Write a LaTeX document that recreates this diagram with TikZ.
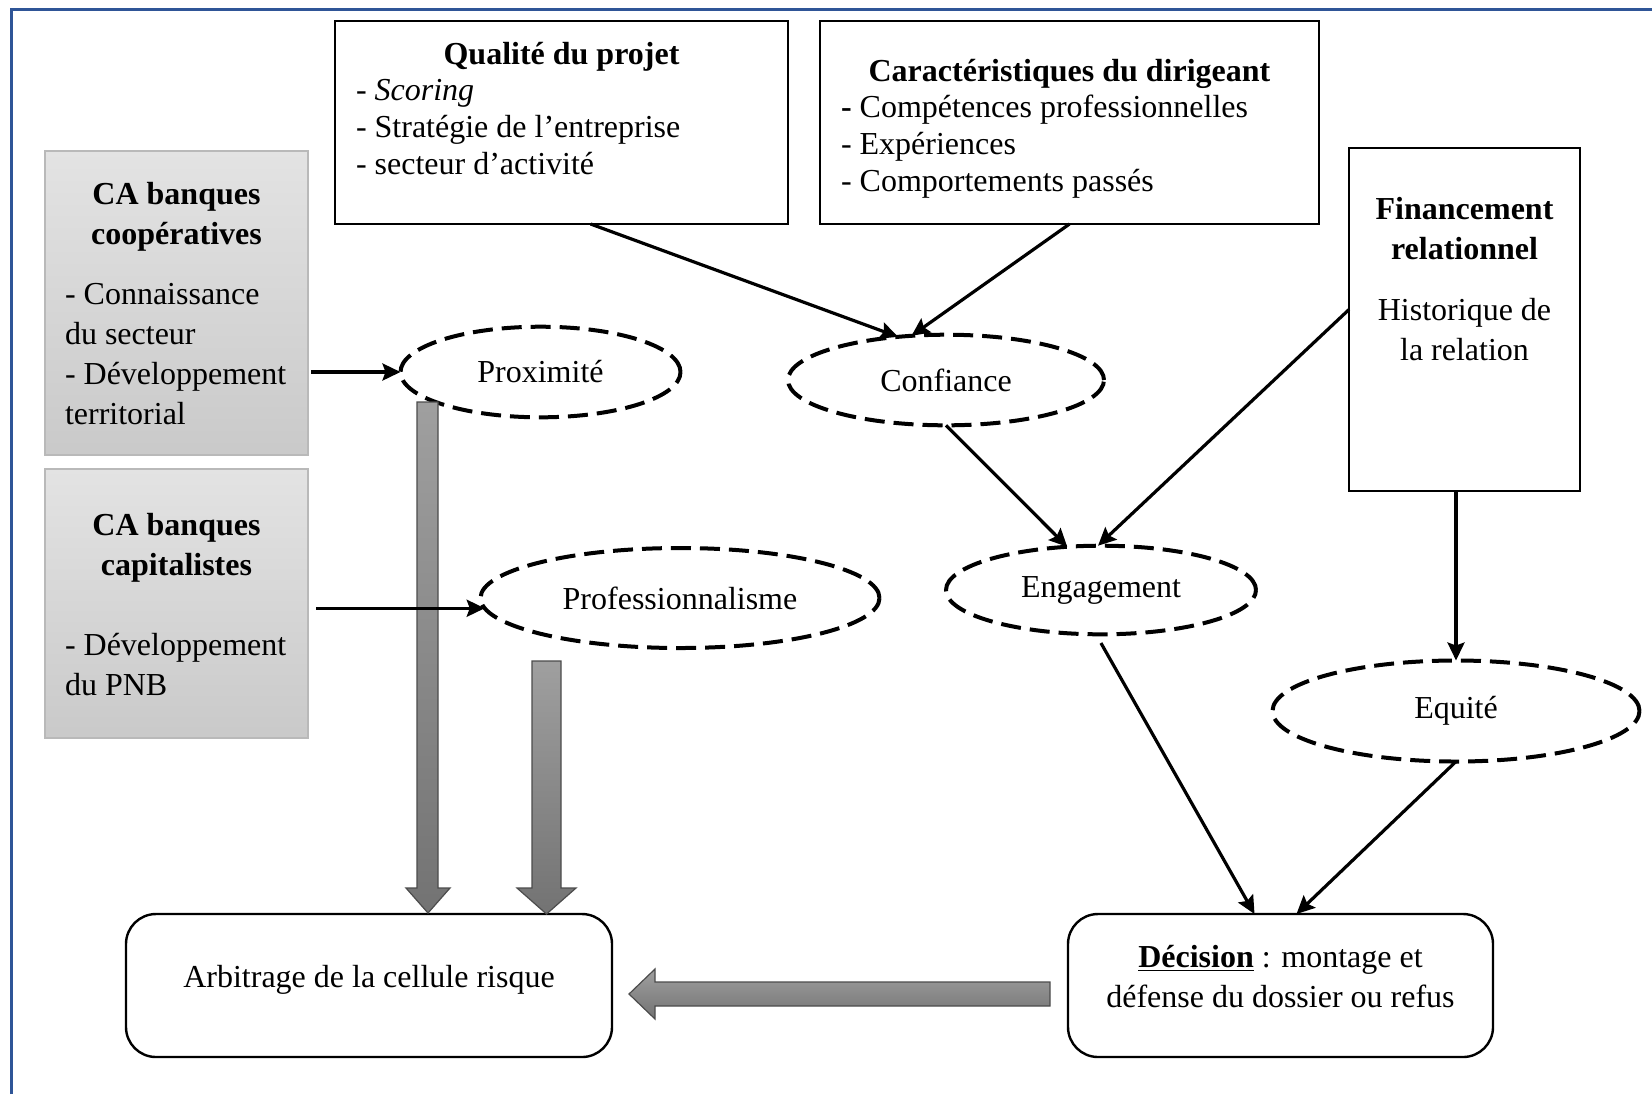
\documentclass[tikz,border=0pt]{standalone}
\usepackage{fontspec}
\setmainfont{Liberation Serif}
\usetikzlibrary{shapes.geometric,arrows.meta,positioning}
\definecolor{cadre}{RGB}{47,85,151}

\begin{document}
\begin{tikzpicture}[x=0.5pt, y=-0.5pt, >={Stealth[length=9pt,width=8.5pt,inset=1.5pt]},
    every node/.style={font=\fontsize{16}{20}\selectfont, inner sep=0pt, outer sep=0pt},
    boite/.style={draw, line width=1.2pt},
    grise/.style={draw=gray!55, line width=0.6pt, top color=gray!22, bottom color=gray!42},
    arrondi/.style={draw, line width=1.2pt, rounded corners=15pt},
    bulle/.style={ellipse, draw, line width=2pt, dash pattern=on 10pt off 4.5pt},
    fleche/.style={->, line width=1.6pt},
    grosse/.style={draw=black!70, line width=0.6pt, top color=gray!75, bottom color=black!55},
    txt/.style={anchor=north west, align=left},
    serre/.style={font=\fontsize{16}{18.3}\selectfont}]
    \useasboundingbox (0,0) rectangle (1652,1094);

    % 1. cadre de la page
    \draw[cadre, line width=1.5pt] (11,1094) -- (11,9) -- (1652,9);

    % 2. encadrés du haut
    \node[boite, minimum width=226.5pt, minimum height=101.5pt] (qualite) at (561.5,122.5) {};
    \node[txt, serre] (qualitetxt) at (356,42) {\makebox[205.5pt]{\textbf{Qualité du projet}}\\- \textit{Scoring}\\- Stratégie de l’entreprise\\- secteur d’activité};

    \node[boite, minimum width=249.5pt, minimum height=101.5pt] (caract) at (1069.5,122.5) {};
    \node[txt, serre] (caracttxt) at (841,59) {\makebox[228.5pt]{\textbf{Caractéristiques du dirigeant}}\\\textbf{-} Compétences professionnelles\\- Expériences\\- Comportements passés};

    \node[boite, minimum width=115.5pt, minimum height=171.5pt] (fin) at (1464.5,319.5) {};
    \node[anchor=north, align=center] (fintxt) at (1464.5,197) {\textbf{Financement}\\\textbf{relationnel}\\[10.5pt]Historique de\\la relation};

    % 3. conseils d'administration (encadrés gris)
    \node[grise, minimum width=131.5pt, minimum height=152pt] (coop) at (176.5,303) {};
    \node[txt] (cooptxt) at (65,182) {\makebox[111.5pt]{\textbf{CA banques}}\\\makebox[111.5pt]{\textbf{coopératives}}\\[10pt]- Connaissance\\du secteur\\- Développement\\territorial};

    \node[grise, minimum width=131.5pt, minimum height=134.5pt] (cap) at (176.5,603.5) {};
    \node[txt] (captxt) at (65,513) {\makebox[111.5pt]{\textbf{CA banques}}\\\makebox[111.5pt]{\textbf{capitalistes}}\\[20pt]- Développement\\du PNB};

    % 4. encadrés du bas
    \node[arrondi, minimum width=243pt, minimum height=71.5pt] (arbitrage) at (369,985.5) {};
    \node[anchor=north] (arbitragetxt) at (369,965) {Arbitrage de la cellule risque};

    \node[arrondi, minimum width=212.5pt, minimum height=71.5pt] (decision) at (1280.5,985.5) {};
    \node[anchor=north, align=center] (decisiontxt) at (1280.5,945) {\underline{\textbf{Décision}} : montage et\\défense du dossier ou refus};

    % 5. ellipses en pointillés
    \node[bulle, minimum width=140pt, minimum height=45.3pt] (prox) at (540.5,372) {Proximité};
    \node[bulle, minimum width=158pt, minimum height=45.3pt] (confiance) at (946,380) {Confiance};
    \node[bulle, minimum width=199.5pt, minimum height=50pt] (prof) at (680,598) {Professionnalisme};
    \node[bulle, minimum width=155pt, minimum height=44.3pt] (engag) at (1101,590) {Engagement};
    \node[bulle, minimum width=183.5pt, minimum height=50.5pt] (equite) at (1456,711) {Equité};

    % 6. grosses flèches grises
    \draw[grosse] (417,402) -- (438,402) -- (438,888) -- (450,888) -- (428,913) -- (406,888) -- (417,888) -- cycle;
    \draw[grosse] (532,661) -- (561,661) -- (561,888) -- (576,888) -- (546.5,914) -- (517,888) -- (532,888) -- cycle;
    \draw[grosse] (1050,982) -- (1050,1006) -- (655,1006) -- (655,1019) -- (629,994) -- (655,969) -- (655,982) -- cycle;

    % 7. flèches
    \draw[fleche, shorten <=1.5pt] (coop.east |- prox.west) -- (prox.west);
    \draw[fleche, shorten <=4pt] (cap.east |- prof.183) -- (prof.183);
    \draw[fleche] (qualite.-74) -- (confiance.138);
    \draw[fleche] (caract.south) -- (confiance.128);
    \draw[fleche] (confiance.south) -- (engag.128);
    \draw[fleche] ([yshift=5pt]fin.west) -- ([xshift=-1.5pt]engag.north);
    \draw[fleche] (fin.south -| equite.north) -- (equite.north);
    \draw[fleche, shorten <=5pt] ([xshift=-2.5pt]engag.south) -- ([xshift=-13pt]decision.north);
    \draw[fleche] (equite.south) -- ([xshift=8pt]decision.north);
\end{tikzpicture}
\end{document}
